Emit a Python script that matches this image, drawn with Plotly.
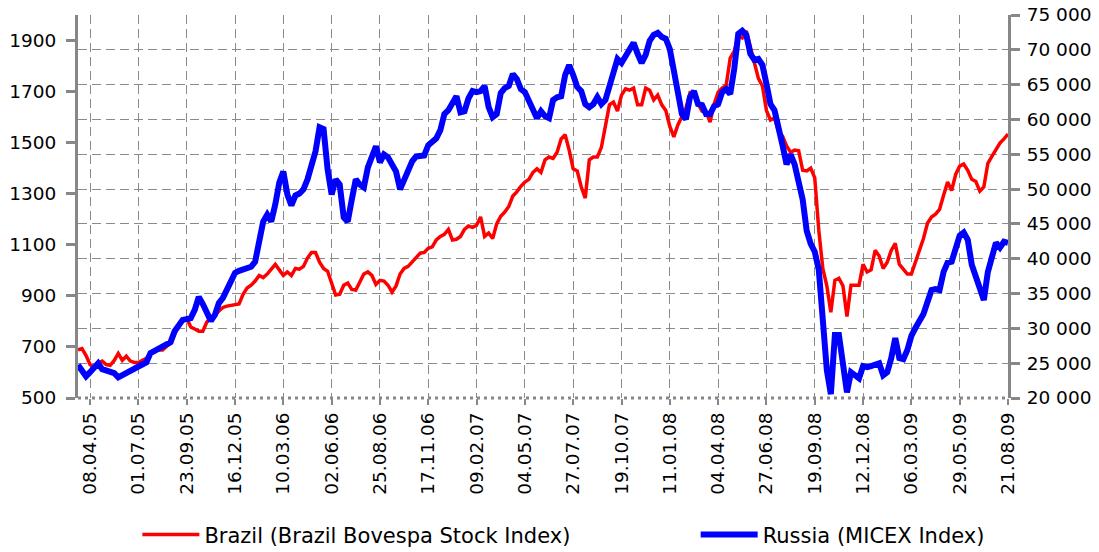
import plotly.graph_objects as go
import pandas as pd

# Weekly closes, first week 18.03.05, last week 21.08.09
START_DATE = '2005-03-18'

BRAZIL = [
    26900, 27100, 26100, 24800, 24400, 25000, 25300, 24800, 24700, 25400,
    26400, 25400, 26000, 25300, 25100, 25100, 25400, 25700, 26300, 26700,
    26900, 26900, 27400, 27900, 29200, 30300, 31200, 31500, 30200, 29900,
    29600, 29600, 30900, 31500, 31900, 32500, 33000, 33200, 33300, 33300,
    33500, 34900, 35800, 36200, 36800, 37600, 37300, 37800, 38600, 39200,
    38400, 37600, 38100, 37600, 38600, 38500, 38900, 40100, 40900, 40900,
    39500, 38600, 38200, 36300, 34800, 34900, 36200, 36500, 35600, 35500,
    36600, 37800, 38100, 37600, 36300, 36900, 36800, 36200, 35200, 36100,
    37800, 38600, 38900, 39500, 40200, 40800, 40900, 41500, 41700, 42700,
    43200, 43500, 44200, 42700, 42800, 43200, 44200, 44700, 44500, 44800,
    46000, 43200, 43700, 42900, 45000, 46100, 46700, 47500, 49000, 49600,
    50400, 51000, 51400, 52400, 52900, 52400, 54200, 54600, 54400, 55300,
    57200, 57800, 55600, 52900, 52600, 50300, 48700, 54200, 54600, 54600,
    56000, 59200, 62100, 62500, 61200, 63500, 64400, 64200, 64500, 62100,
    62100, 64500, 64200, 62800, 63500, 62100, 61300, 59000, 57500, 59200,
    60500, 61600, 63800, 63500, 62300, 61200, 61100, 59600, 62200, 63900,
    64500, 64900, 68800, 69800, 72000, 71700, 72700, 70300, 68200, 65900,
    64800, 61300, 59900, 60200, 58300, 57600, 56200, 55300, 55600, 55500,
    52700, 52600, 53000, 51600, 44100, 38600, 36100, 32300, 36900, 37200,
    36100, 31700, 36200, 36200, 36200, 39200, 38100, 38400, 41200, 40400,
    38600, 39500, 41200, 42200, 39200, 38500, 37800, 37800, 39400, 41200,
    42900, 45100, 46000, 46400, 47100, 49100, 51000, 49800, 52100, 53300,
    53600, 52700, 51400, 51100, 49700, 50300, 53700, 54700, 55600, 56600,
    57200, 57900,
]

RUSSIA = [
    629, 609, 585, 601, 621, 636, 613, 609, 605, 597,
    581, 589, 601, 609, 613, 621, 629, 640, 676, 684,
    691, 703, 711, 719, 762, 782, 806, 809, 813, 845,
    896, 868, 829, 802, 825, 872, 892, 927, 959, 990,
    998, 1002, 1010, 1014, 1034, 1120, 1191, 1218, 1191, 1258,
    1344, 1387, 1297, 1254, 1293, 1301, 1317, 1356, 1407, 1466,
    1560, 1553, 1395, 1297, 1356, 1336, 1207, 1191, 1277, 1356,
    1336, 1325, 1403, 1454, 1486, 1423,
    1454, 1443, 1419, 1387, 1317, 1356, 1380, 1427, 1446, 1446,
    1450, 1490, 1501, 1517, 1549, 1612, 1627, 1659, 1682, 1619,
    1623, 1674, 1702, 1698, 1702, 1722, 1639, 1600, 1612, 1694,
    1714, 1722, 1769, 1749, 1710, 1698, 1663, 1631, 1596, 1623,
    1604, 1596, 1667, 1678, 1682, 1765, 1804, 1765, 1718, 1702,
    1651, 1639, 1651, 1678, 1651, 1667, 1726, 1769, 1828, 1812,
    1840, 1875, 1891, 1848, 1812, 1844, 1899, 1922, 1930, 1914,
    1907, 1867, 1781, 1690, 1612, 1592, 1678, 1702, 1651, 1647,
    1612, 1612, 1643, 1651, 1698, 1710, 1690, 1789, 1926, 1938,
    1922, 1848, 1824, 1828, 1804, 1730, 1651, 1627, 1545, 1490,
    1415, 1454, 1415, 1344, 1277, 1155, 1104, 1073, 1002, 806,
    609, 515, 747, 747, 609, 522, 601, 589, 577, 625,
    621, 625, 633, 636, 589, 601, 656, 735, 656, 652,
    688, 743, 774, 806, 829, 876, 923, 927, 923, 994,
    1030, 1034, 1093, 1136, 1148, 1120, 1022, 975, 943, 884,
    994, 1053, 1108, 1089, 1112, 1108,
]

X_TICKS = ['2005-04-08', '2005-07-01', '2005-09-23', '2005-12-16', '2006-03-10',
           '2006-06-02', '2006-08-25', '2006-11-17', '2007-02-09', '2007-05-04',
           '2007-07-27', '2007-10-19', '2008-01-11', '2008-04-04', '2008-06-27',
           '2008-09-19', '2008-12-12', '2009-03-06', '2009-05-29', '2009-08-21']
X_LABELS = ['08.04.05', '01.07.05', '23.09.05', '16.12.05', '10.03.06',
            '02.06.06', '25.08.06', '17.11.06', '09.02.07', '04.05.07',
            '27.07.07', '19.10.07', '11.01.08', '04.04.08', '27.06.08',
            '19.09.08', '12.12.08', '06.03.09', '29.05.09', '21.08.09']

LEFT_TICKS = [500, 700, 900, 1100, 1300, 1500, 1700, 1900]
RIGHT_TICKS = [20000, 25000, 30000, 35000, 40000, 45000, 50000, 55000,
               60000, 65000, 70000, 75000]
RIGHT_LABELS = ['20 000', '25 000', '30 000', '35 000', '40 000', '45 000',
                '50 000', '55 000', '60 000', '65 000', '70 000', '75 000']

AXIS_GRAY = '#878787'
GRID_GRAY = '#8a8a8a'
FONT = 'DejaVu Sans'

n = min(len(BRAZIL), len(RUSSIA))
dates = pd.date_range(START_DATE, periods=n, freq='7D')

fig = go.Figure()

# Brazil on the right axis (main y), Russia on the left axis (overlay, drawn on top)
fig.add_trace(go.Scatter(
    x=dates, y=BRAZIL[:n], yaxis='y', mode='lines',
    line=dict(color='#ff0000', width=3.5),
    name='Brazil (Brazil Bovespa Stock Index)', legend='legend'
))
fig.add_trace(go.Scatter(
    x=dates, y=RUSSIA[:n], yaxis='y2', mode='lines',
    line=dict(color='#0000ff', width=6),
    name='Russia (MICEX Index)', legend='legend2'
))

legend_style = dict(
    orientation='h', xref='container', yref='container',
    xanchor='left', yanchor='middle', y=0.031,
    font=dict(family=FONT, size=21), itemwidth=57, bgcolor='rgba(0,0,0,0)',
)

fig.update_layout(
    width=1099, height=552,
    margin=dict(l=78, r=91, t=15, b=154, autoexpand=False),
    paper_bgcolor='white', plot_bgcolor='white',
    font=dict(family=FONT, size=18.5, color='#000000'),
    xaxis=dict(
        type='date',
        range=[START_DATE, '2009-08-21'],
        tickvals=X_TICKS, ticktext=X_LABELS,
        tickangle=-90,
        showgrid=True, gridcolor=GRID_GRAY, gridwidth=1.3, griddash='9px,5px',
        ticks='outside', ticklen=6, tickwidth=2, tickcolor=AXIS_GRAY,
        showline=False, zeroline=False, automargin=False,
        tickfont=dict(family=FONT, size=18.5),
    ),
    yaxis=dict(
        side='right',
        range=[20000, 75000],
        tickvals=RIGHT_TICKS, ticktext=RIGHT_LABELS,
        showgrid=True, gridcolor=GRID_GRAY, gridwidth=1.3, griddash='9px,5px',
        showline=True, linecolor=AXIS_GRAY, linewidth=3,
        ticks='outside', ticklen=9, tickwidth=3, tickcolor=AXIS_GRAY,
        ticklabelstandoff=3,
        tickfont=dict(family=FONT, size=18.5),
        zeroline=False, automargin=False,
    ),
    yaxis2=dict(
        overlaying='y', side='left',
        range=[500, 2000],
        tickvals=LEFT_TICKS,
        showgrid=False,
        showline=True, linecolor=AXIS_GRAY, linewidth=3,
        ticks='outside', ticklen=9, tickwidth=3, tickcolor=AXIS_GRAY,
        ticklabelstandoff=6,
        zeroline=False, automargin=False,
    ),
    legend=dict(legend_style, x=0.125),
    legend2=dict(legend_style, x=0.633),
    showlegend=True,
)

# dotted bottom axis line
fig.add_shape(
    type='line', xref='paper', yref='paper', x0=0, x1=1, y0=0, y1=0,
    line=dict(color=AXIS_GRAY, width=3, dash='3px,4px'), layer='above'
)

# page body has a default 8px margin; drop it so the figure fills the window
fig.write_html("out.html", config={'displayModeBar': False},
               post_script="document.body.style.margin='0';")
